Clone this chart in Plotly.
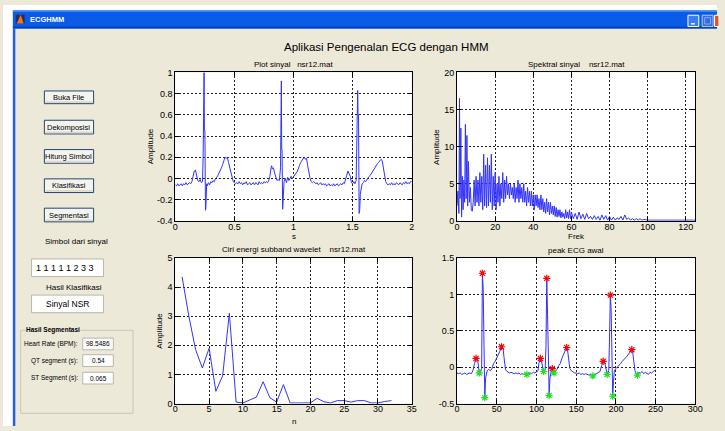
import plotly.graph_objects as go

FONT = "Liberation Sans, Arial, sans-serif"
W, H = 725, 431
BEIGE = "#ECE9D8"

# ---------------- data ----------------
ecg_t = [0.00,0.01,0.02,0.03,0.04,0.05,0.06,0.07,0.08,0.09,
         0.10,0.11,0.12,0.13,0.14,0.15,0.16,0.17,0.18,0.19,
         0.20,0.21,0.22,0.23,0.235,0.24,0.243,0.246,0.25,0.255,0.258,0.265,
         0.27,0.28,0.29,0.30,0.31,0.32,0.33,0.34,0.35,0.36,0.37,0.38,0.39,
         0.40,0.41,0.42,0.43,0.44,0.45,0.46,0.47,0.48,0.49,0.50,
         0.51,0.52,0.53,0.54,0.55,0.56,0.57,0.58,0.59,0.60,0.61,0.62,0.63,0.64,0.65,
         0.66,0.67,0.68,0.69,0.70,0.71,0.72,0.73,0.74,0.75,0.76,0.77,0.78,0.79,
         0.80,0.81,0.815,0.82,0.83,0.84,0.85,0.86,0.87,0.88,0.89,0.893,0.897,0.90,0.903,0.908,0.912,0.92,
         0.93,0.94,0.95,0.96,0.97,0.98,0.99,1.00,1.01,1.02,1.03,1.04,1.05,1.06,1.07,1.08,1.09,
         1.10,1.11,1.12,1.13,1.14,1.15,1.16,1.17,
         1.18,1.19,1.20,1.21,1.22,1.23,1.24,1.25,1.26,1.27,1.28,1.29,1.30,1.31,
         1.32,1.33,1.34,1.35,1.36,1.37,1.38,1.39,1.40,1.41,1.42,1.43,
         1.44,1.45,1.46,1.47,1.48,1.49,1.50,1.51,1.52,1.53,1.535,1.54,1.543,1.546,1.55,1.555,1.56,1.565,1.57,1.58,
         1.59,1.60,1.61,1.62,1.63,1.64,1.65,1.66,1.67,1.68,1.69,1.70,1.71,1.72,1.73,1.74,1.75,1.76,1.77,1.78,1.79,1.80,
         1.81,1.82,1.83,1.84,1.85,1.86,1.87,1.88,1.89,1.90,1.91,1.92,1.93,1.94,1.95,1.96,1.97,1.98,1.99,2.00]
ecg_v = [-0.06,-0.07,-0.05,-0.07,-0.06,-0.05,-0.07,-0.05,-0.06,-0.04,
         -0.06,-0.05,-0.04,-0.05,-0.03,0.02,0.07,0.08,0.04,-0.02,
         -0.03,-0.01,-0.04,-0.03,0.20,1.00,1.00,0.45,0.45,-0.30,-0.28,-0.05,
         -0.07,-0.04,-0.06,-0.03,-0.04,-0.02,-0.03,0.00,0.01,0.03,0.05,0.08,0.10,
         0.13,0.17,0.20,0.19,0.20,0.15,0.10,0.04,0.00,-0.03,-0.04,
         -0.05,-0.04,-0.05,-0.03,-0.05,-0.04,-0.06,-0.04,-0.05,-0.03,-0.06,-0.05,-0.04,-0.06,-0.05,
         -0.04,-0.06,-0.04,-0.05,-0.06,-0.03,-0.05,-0.04,-0.05,-0.03,-0.04,-0.03,-0.04,-0.02,
         0.02,0.10,0.12,0.09,0.10,0.05,0.00,-0.02,-0.01,-0.02,0.10,0.92,0.92,0.27,0.27,-0.29,-0.20,-0.03,
         0.00,-0.04,0.01,-0.02,0.00,0.02,0.00,0.02,0.03,0.05,0.06,0.10,0.12,0.15,0.17,0.19,0.20,
         0.18,0.19,0.12,0.05,0.00,-0.03,-0.04,-0.03,
         -0.04,-0.05,-0.04,-0.06,-0.05,-0.04,-0.06,-0.05,-0.06,-0.05,-0.07,-0.06,-0.05,-0.07,
         -0.06,-0.07,-0.05,-0.07,-0.06,-0.05,-0.07,-0.06,-0.05,-0.06,-0.04,-0.05,
         -0.02,0.03,0.07,0.05,0.02,-0.04,-0.05,-0.03,-0.05,-0.02,0.30,0.83,0.83,0.60,0.60,-0.33,-0.30,-0.15,-0.12,-0.05,
         -0.04,-0.02,-0.03,-0.01,0.00,0.02,0.03,0.05,0.06,0.08,0.10,0.12,0.14,0.15,0.17,0.18,0.17,0.10,0.03,-0.03,-0.05,-0.06,
         -0.05,-0.06,-0.04,-0.06,-0.05,-0.06,-0.04,-0.05,-0.06,-0.04,-0.05,-0.06,-0.04,-0.05,-0.03,-0.05,-0.04,-0.05,-0.03,-0.03]

spec_f = [0.0,0.5,1.0,1.3,1.6,2.0,2.4,2.8,3.2,3.6,4.0,4.4,4.8,5.2,5.6,6.0,6.5,7.0,7.5,8.0,
          8.5,9.0,9.5,10.0,10.5,11.0,11.5,12.0,12.5,13.0,13.5,14.0,14.5,15.0,15.5,16.0,16.5,17.0,17.5,18.0,
          18.5,19.0,19.5,20.0,20.5,21.0,21.5,22.0,22.5,23.0,23.5,24.0,24.5,25.0,25.5,26.0,26.5,27.0,27.5,28.0,
          28.5,29.0,29.5,30.0,30.5,31.0,31.5,32.0,32.5,33.0,33.5,34.0,34.5,35.0,35.5,36.0,36.5,37.0,37.5,38.0,
          38.5,39.0,39.5,40.0,40.5,41.0,41.5,42.0,42.5,43.0,43.5,44.0,44.5,45.0,45.5,46.0,46.5,47.0,47.5,48.0,
          48.5,49.0,49.5,50.0,50.5,51.0,51.5,52.0,52.5,53.0,53.5,54.0,54.5,55.0,55.5,56.0,56.5,57.0,57.5,58.0,
          58.5,59.0,59.5,60.0,61,62,63,64,65,66,67,68,69,70,71,72,73,74,75,76,77,78,79,80,
          81,82,83,84,85,86,87,88,89,90,91,92,93,94,95,96,97,98,100,125]
spec_a = [2.0,4.0,1.0,16.5,3.0,12.5,0.5,6.0,1.5,5.5,2.5,13.0,3.0,11.5,2.0,8.0,2.5,4.5,1.5,1.3,
          2.5,5.5,2.0,6.0,2.5,5.5,2.0,6.5,2.5,6.0,1.5,9.0,2.0,7.5,1.8,8.5,2.0,7.5,2.5,9.0,
          1.5,6.0,2.0,6.5,1.5,5.0,2.5,6.0,2.0,5.0,3.0,6.5,2.5,5.5,3.0,6.0,3.5,5.0,3.0,5.0,
          3.5,4.5,3.0,5.0,2.5,4.5,3.0,5.5,2.5,5.0,3.0,4.5,2.5,5.0,2.5,4.0,2.0,4.5,2.5,4.0,
          2.0,4.0,2.0,3.5,1.5,3.5,2.0,3.5,1.8,3.0,1.5,3.5,1.5,3.0,1.2,2.5,1.0,3.0,1.2,2.5,
          0.8,2.5,1.0,2.0,0.8,2.0,0.6,1.8,0.5,1.5,0.6,1.5,0.4,1.2,0.5,1.0,0.3,1.5,0.4,1.2,
          0.3,1.5,0.3,1.2,0.3,1.0,0.2,1.2,0.3,0.9,0.2,1.0,0.3,0.6,0.2,0.7,0.2,0.6,0.1,0.8,0.2,0.7,0.1,0.6,
          0.1,0.5,0.1,0.4,0.2,0.6,0.1,0.8,0.2,0.4,0.1,0.3,0.1,0.3,0.1,0.3,0.1,0.2,0.1,0.1]

band_n = [1,2,3,4,5,6,7,8,9,10,11,12,13,14,15,16,17,18,19,20,21,22,23,24,25,26,27,28,29,30,31,32]
band_e = [4.35,3.0,1.85,1.22,1.9,0.42,0.95,3.1,0.05,0.02,0.12,0.22,0.75,0.2,0.05,0.65,
          0.02,0.02,0.02,0.02,0.18,0.06,0.02,0.1,0.1,0.05,0.1,0.1,0.02,0.02,0.07,0.1]

ds_n = [0,2,4,6,8,10,12,14,16,18,20,22,24,26,27,28,29,30,31,32,33,34,35,36,37,38,40,42,44,46,48,50,
        52,54,56,58,59,60,61,62,64,66,68,70,72,74,76,78,80,82,84,86,88,90,92,94,96,98,100,
        102,103,105,106,107,109,110,111,112,113,114,115,116,117,118,119,120,121,122,124,126,128,130,
        132,134,136,138,139,140,141,142,144,146,148,150,152,154,156,158,160,162,164,166,168,171,174,
        176,178,180,182,184,186,187,189,190,191,192,193,194,195,196,197,198,200,202,204,206,208,210,
        212,214,216,218,220,221,222,223,224,225,227,229,231,233,235,237,239,241,243,245,247,249,250]
ds_v = [-0.08,-0.09,-0.08,-0.10,-0.09,-0.08,-0.10,-0.09,-0.08,-0.09,-0.05,0.05,0.12,0.10,0.02,-0.08,-0.07,-0.05,-0.02,1.29,1.07,0.30,-0.42,-0.15,-0.08,-0.05,-0.03,-0.05,-0.02,0.05,0.08,0.12,
        0.17,0.22,0.28,0.26,0.15,0.05,-0.03,-0.05,-0.07,-0.08,-0.07,-0.08,-0.09,-0.08,-0.09,-0.08,-0.10,-0.09,-0.10,-0.09,-0.10,-0.09,-0.08,-0.09,-0.07,-0.08,-0.07,
        -0.05,0.05,0.12,0.10,0.03,-0.06,-0.05,-0.03,0.30,1.22,0.72,0.10,-0.39,-0.15,-0.05,-0.04,-0.02,-0.05,-0.08,-0.05,-0.03,0.02,0.05,
        0.12,0.17,0.22,0.27,0.25,0.15,0.05,-0.02,-0.05,-0.07,-0.08,-0.08,-0.09,-0.08,-0.10,-0.09,-0.10,-0.09,-0.10,-0.11,-0.10,-0.12,-0.10,
        -0.09,-0.08,-0.06,0.02,0.08,0.06,0.00,-0.10,-0.08,-0.05,0.40,0.99,0.80,0.15,-0.40,-0.20,-0.05,-0.02,0.00,0.02,0.05,0.08,0.10,
        0.12,0.15,0.18,0.22,0.24,0.22,0.10,0.00,-0.05,-0.08,-0.11,-0.07,-0.08,-0.06,-0.09,-0.07,-0.08,-0.10,-0.07,-0.08,-0.06,-0.05,-0.04]

peak_n = [24,32,56,105,113,120,138,184,193,220]
peak_v = [0.12,1.29,0.28,0.12,1.22,-0.02,0.27,0.08,0.99,0.24]
trough_n = [28,35,88,109,116,122,171,189,196,227]
trough_v = [-0.08,-0.42,-0.10,-0.06,-0.39,-0.08,-0.12,-0.10,-0.40,-0.11]

p1_yticks = [-0.4,-0.2,0,0.2,0.4,0.6,0.8,1]
p1_yticktext = ["-0.4","-0.2","0","0.2","0.4","0.6","0.8","1"]
p4_yticks = [-0.5,0,0.5,1,1.5]
p4_yticktext = ["-0.5","0","0.5","1","1.5"]

button_labels = ["Buka File", "Dekomposisi", "Hitung Simbol", "Klasifikasi", "Segmentasi"]
symbol_text = "1&nbsp;1&nbsp;1&nbsp;1&nbsp;1&nbsp;2&nbsp;3&nbsp;3"
class_text = "Sinyal NSR"
seg_labels = ["Heart Rate (BPM):", "QT segment (s):", "ST Segment (s):"]
seg_values = ["98.5486", "0.54", "0.065"]

# ---------------- helpers ----------------
def px(x):
    return x / W

def py(y):
    return 1 - y / H

shapes = []
annotations = []

def rect(x0, y0, x1, y1, fill, line=None, lw=1):
    shapes.append(dict(type="rect", xref="paper", yref="paper",
                       x0=px(x0), x1=px(x1), y0=py(y1), y1=py(y0),
                       fillcolor=fill,
                       line=dict(color=line if line else fill, width=lw if line else 0),
                       layer="below"))

def text(x, y, s, size, color="black", xanchor="center", angle=0, bg=None, bold=False):
    if bold:
        s = "<b>" + s + "</b>"
    d = dict(xref="paper", yref="paper", x=px(x), y=py(y), text=s, showarrow=False,
             font=dict(size=size, color=color, family=FONT), xanchor=xanchor,
             yanchor="middle", textangle=angle, borderpad=0)
    if bg:
        d["bgcolor"] = bg
    annotations.append(d)

# ---------------- window chrome ----------------
rect(0, 0, 725, 5, "#FFFFFF")
rect(0, 0, 10, 431, "#FFFFFF")
rect(10, 5, 725, 24, "#0A5CE6")
rect(10, 5, 725, 7, "#4A95FF")
rect(10, 22, 725, 24, "#0042C8")
rect(10, 24, 12.5, 431, "#1F5FE0")
# icon
rect(13, 10, 22, 19, "#2A2A6A")
shapes.append(dict(type="path", xref="paper", yref="paper",
                   path="M %f %f L %f %f L %f %f Z" % (px(14), py(19), px(18), py(10), px(21), py(19)),
                   fillcolor="#F07A10", line=dict(width=0)))
text(26, 15, "ECGHMM", 7.5, color="white", xanchor="left", bold=True)
# title bar buttons
rect(695.5, 10.5, 706.5, 22, "#3C7EF0", line="#FFFFFF", lw=1)
rect(698.5, 18.5, 702.5, 20, "#FFFFFF")
rect(710, 10.5, 721, 22, "#2D6DE8", line="#B8C8F0", lw=1)
rect(712.5, 13, 718.5, 19.5, "#2D6DE8", line="#90A8E8", lw=1)
rect(722.5, 10.5, 727, 22, "#E0502A", line="#FFFFFF", lw=1)

# main title
text(389, 43, "Aplikasi Pengenalan ECG dengan HMM", 11.5)

# buttons
button_y = [(88, 101), (118, 132), (148, 162), (178, 192), (208, 222)]
for lab, (y0, y1) in zip(button_labels, button_y):
    rect(42, y0, 92, y1, "#F4F3EE", line="#24466E", lw=1)
    rect(43, y1 - 2.5, 91, y1 - 0.8, "#DCD8CC")
    text(67, (y0 + y1) / 2, lab, 7.5)

text(75, 242, "Simbol dari sinyal", 8)
rect(29, 260, 102, 278, "#FFFFFF", line="#B9B6AA", lw=1)
text(32, 269, symbol_text, 9, xanchor="left")
text(72, 289, "Hasil Klasifikasi", 8)
rect(29, 297, 102, 315, "#FFFFFF", line="#B9B6AA", lw=1)
text(65, 306, class_text, 8.5)

# group box
rect(18, 333, 132, 418, "rgba(0,0,0,0)", line="#C8C5B8", lw=1)
text(22, 333, "Hasil Segmentasi", 6.5, xanchor="left", bg=BEIGE, bold=True)
seg_y = [347, 364, 382]
for lab, val, yy in zip(seg_labels, seg_values, seg_y):
    text(77, yy, lab, 6.5, xanchor="right")
    rect(81, yy - 6, 112, yy + 6, "#FFFFFF", line="#B9B6AA", lw=1)
    text(96.5, yy, val, 6.5)

# axes titles / labels
text(295, 61, "Plot sinyal &nbsp; nsr12.mat", 8)
text(582, 61, "Spektral sinyal &nbsp;&nbsp; nsr12.mat", 8)
text(295, 250, "Ciri energi subband wavelet &nbsp;&nbsp; nsr12.mat", 8)
text(582, 251, "peak ECG awal", 8)
text(295, 237, "s", 8)
text(582, 237, "Frek", 8)
text(295, 426, "n", 8)
text(150, 145, "Amplitude", 8, angle=-90)
text(440, 145, "Amplitude", 8, angle=-90)
text(159, 334, "Amplitude", 8, angle=-90)

# ---------------- figure ----------------
LINE = "rgb(50,50,255)"
fig = go.Figure()
fig.add_trace(go.Scatter(x=ecg_t, y=ecg_v, mode="lines", line=dict(color=LINE, width=1),
                         xaxis="x", yaxis="y", showlegend=False, hoverinfo="skip"))
fig.add_trace(go.Scatter(x=spec_f, y=spec_a, mode="lines", line=dict(color=LINE, width=1),
                         xaxis="x2", yaxis="y2", showlegend=False, hoverinfo="skip"))
fig.add_trace(go.Scatter(x=band_n, y=band_e, mode="lines", line=dict(color=LINE, width=1),
                         xaxis="x3", yaxis="y3", showlegend=False, hoverinfo="skip"))
fig.add_trace(go.Scatter(x=ds_n, y=ds_v, mode="lines", line=dict(color=LINE, width=1),
                         xaxis="x4", yaxis="y4", showlegend=False, hoverinfo="skip"))
fig.add_trace(go.Scatter(x=peak_n, y=peak_v, mode="markers",
                         marker=dict(symbol="asterisk-open", size=6, color="red",
                                     line=dict(color="red", width=1.2)),
                         xaxis="x4", yaxis="y4", showlegend=False, hoverinfo="skip"))
fig.add_trace(go.Scatter(x=trough_n, y=trough_v, mode="markers",
                         marker=dict(symbol="asterisk-open", size=6, color="#20E020",
                                     line=dict(color="#20E020", width=1.2)),
                         xaxis="x4", yaxis="y4", showlegend=False, hoverinfo="skip"))

def ax(domain, rng, anchor, is_x, **kw):
    d = dict(domain=domain, range=rng, anchor=anchor, showline=True, linecolor="black",
             linewidth=1, mirror="ticks", ticks="inside", ticklen=4, tickcolor="black",
             showgrid=True, gridcolor="#202020", griddash="2px,2px", gridwidth=1,
             zeroline=False, fixedrange=True,
             ticklabelstandoff=-3 if is_x else 0,
             tickfont=dict(size=9, family=FONT, color="black"))
    d.update(kw)
    return d

dxL = [px(175), px(415)]
dxR = [px(461), px(703)]
dyT = [py(221), py(69)]
dyB = [py(408), py(259)]

fig.update_layout(
    width=W, height=H, autosize=False,
    margin=dict(l=0, r=0, t=0, b=0, pad=0),
    paper_bgcolor=BEIGE, plot_bgcolor="white",
    showlegend=False,
    xaxis=ax(dxL, [0, 2], "y", True, tickvals=[0, 0.5, 1, 1.5, 2], ticktext=["0", "0.5", "1", "1.5", "2"]),
    yaxis=ax(dyT, [-0.4, 1], "x", False, tickvals=p1_yticks, ticktext=p1_yticktext),
    xaxis2=ax(dxR, [0, 125], "y2", True, tickvals=[0, 20, 40, 60, 80, 100, 120]),
    yaxis2=ax(dyT, [0, 20], "x2", False, tickvals=[0, 5, 10, 15, 20]),
    xaxis3=ax(dxL, [0, 35], "y3", True, tickvals=[0, 5, 10, 15, 20, 25, 30, 35]),
    yaxis3=ax(dyB, [0, 5], "x3", False, tickvals=[0, 1, 2, 3, 4, 5]),
    xaxis4=ax(dxR, [0, 300], "y4", True, tickvals=[0, 50, 100, 150, 200, 250, 300]),
    yaxis4=ax(dyB, [-0.5, 1.5], "x4", False, tickvals=p4_yticks, ticktext=p4_yticktext),
    shapes=shapes,
    annotations=annotations,
)

fig.write_html("out.html", config={"displayModeBar": False, "staticPlot": True},
               post_script="document.body.style.margin='0';document.body.style.overflow='hidden';")
